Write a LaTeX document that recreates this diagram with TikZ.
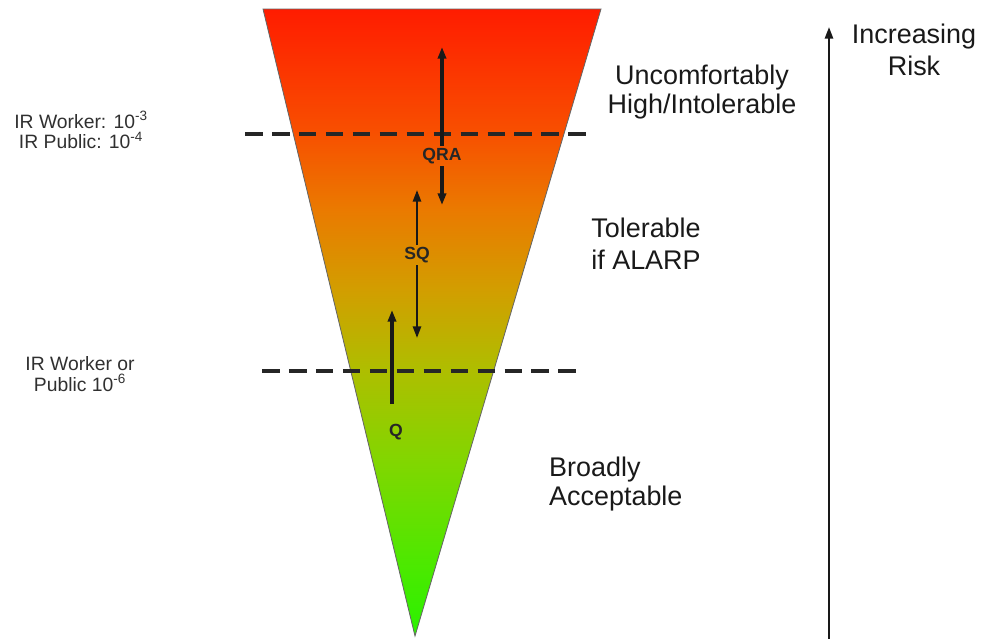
\documentclass[tikz,border=0pt]{standalone}
\usepackage{fontspec}
\setmainfont{Liberation Sans}
\definecolor{riskred}{RGB}{255,28,0}
\definecolor{riskredor}{RGB}{248,78,0}
\definecolor{riskorange}{RGB}{234,122,0}
\definecolor{riskgold}{RGB}{210,158,0}
\definecolor{riskolive}{RGB}{174,190,0}
\definecolor{risklime}{RGB}{130,214,0}
\definecolor{risklgreen}{RGB}{78,232,0}
\definecolor{riskgreen}{RGB}{42,242,0}
\definecolor{risktext}{RGB}{25,25,25}
\pgfdeclareverticalshading{riskfade}{100bp}{color(0bp)=(riskgreen); color(25bp)=(riskgreen); color(31bp)=(risklgreen); color(39bp)=(risklime); color(46.2bp)=(riskolive); color(52.6bp)=(riskgold); color(59bp)=(riskorange); color(65.4bp)=(riskredor); color(75bp)=(riskred); color(100bp)=(riskred)}
\usetikzlibrary{arrows.meta,positioning}
\tikzset{
  zone/.style={font=\fontsize{23}{24.5}\selectfont, text=risktext, align=center},
  limit/.style={font=\fontsize{16.5}{17.5}\selectfont, text=risktext!90, align=center},
  method/.style={font=\fontsize{15}{16}\selectfont\bfseries, text=black!85, inner sep=2pt},
  band/.style={line width=3pt, dash pattern=on 15pt off 8pt, black!85},
  arr/.style={-{Triangle[length=10pt,width=7pt]}, line width=3pt, black!90}
}
\begin{document}
\begin{tikzpicture}[x=0.03cm, y=-0.03cm]
  \useasboundingbox (0,0) rectangle (982,638);
  % Triangle
  \coordinate (tl) at (263,9);
  \coordinate (tr) at (601,9);
  \coordinate (apex) at (415,636);
  \shadedraw[shading=riskfade, draw=black!60, line width=0.7pt] (tl) -- (tr) -- (apex) -- cycle;
  % Limits
  \coordinate (hi1) at (245,134);
  \coordinate (hi2) at (590,134);
  \coordinate (lo1) at (262,371);
  \coordinate (lo2) at (583,371);
  \draw[band] (hi1) -- (hi2);
  \draw[band] (lo1) -- (lo2);
  \node[limit] (hilab) at (81,130) {IR Worker: 10\textsuperscript{-3}\\IR Public: 10\textsuperscript{-4}};
  \node[limit] (lolab) at (80,374) {IR Worker or\\Public 10\textsuperscript{-6}};
  % Methods
  \node[method] (qra) at (442,156) {QRA};
  \coordinate (qratop) at (442,47);
  \coordinate (qrabot) at (442,205);
  \draw[arr] (qra) -- (qratop);
  \draw[arr] (qra) -- (qrabot);
  \node[method] (sq) at (417,255) {SQ};
  \coordinate (sqtop) at (417,190);
  \coordinate (sqbot) at (417,338);
  \draw[arr, line width=1.9pt] (sq) -- (sqtop);
  \draw[arr, line width=1.9pt] (sq) -- (sqbot);
  \node[method] (q) at (396,432) {Q};
  \coordinate (qfoot) at (392,404);
  \coordinate (qtip) at (392,310);
  \draw[arr] (qfoot) -- (qtip);
  % Zones
  \node[zone] (intol) at (702,92) {Uncomfortably\\High/Intolerable};
  \node[zone, font=\fontsize{23}{27}\selectfont] (alarp) at (646,244) {Tolerable\\if ALARP};
  \node[zone, align=left, anchor=west] (broad) at (545,484) {Broadly\\Acceptable};
  % Risk axis
  \coordinate (axbot) at (829,640);
  \coordinate (axtop) at (829,27);
  \draw[-{Triangle[length=10pt,width=7pt]}, line width=1.9pt, black!90] (axbot) -- (axtop);
  \node[zone, font=\fontsize{23}{27}\selectfont] (incr) at (914,50) {Increasing\\Risk};
\end{tikzpicture}
\end{document}
